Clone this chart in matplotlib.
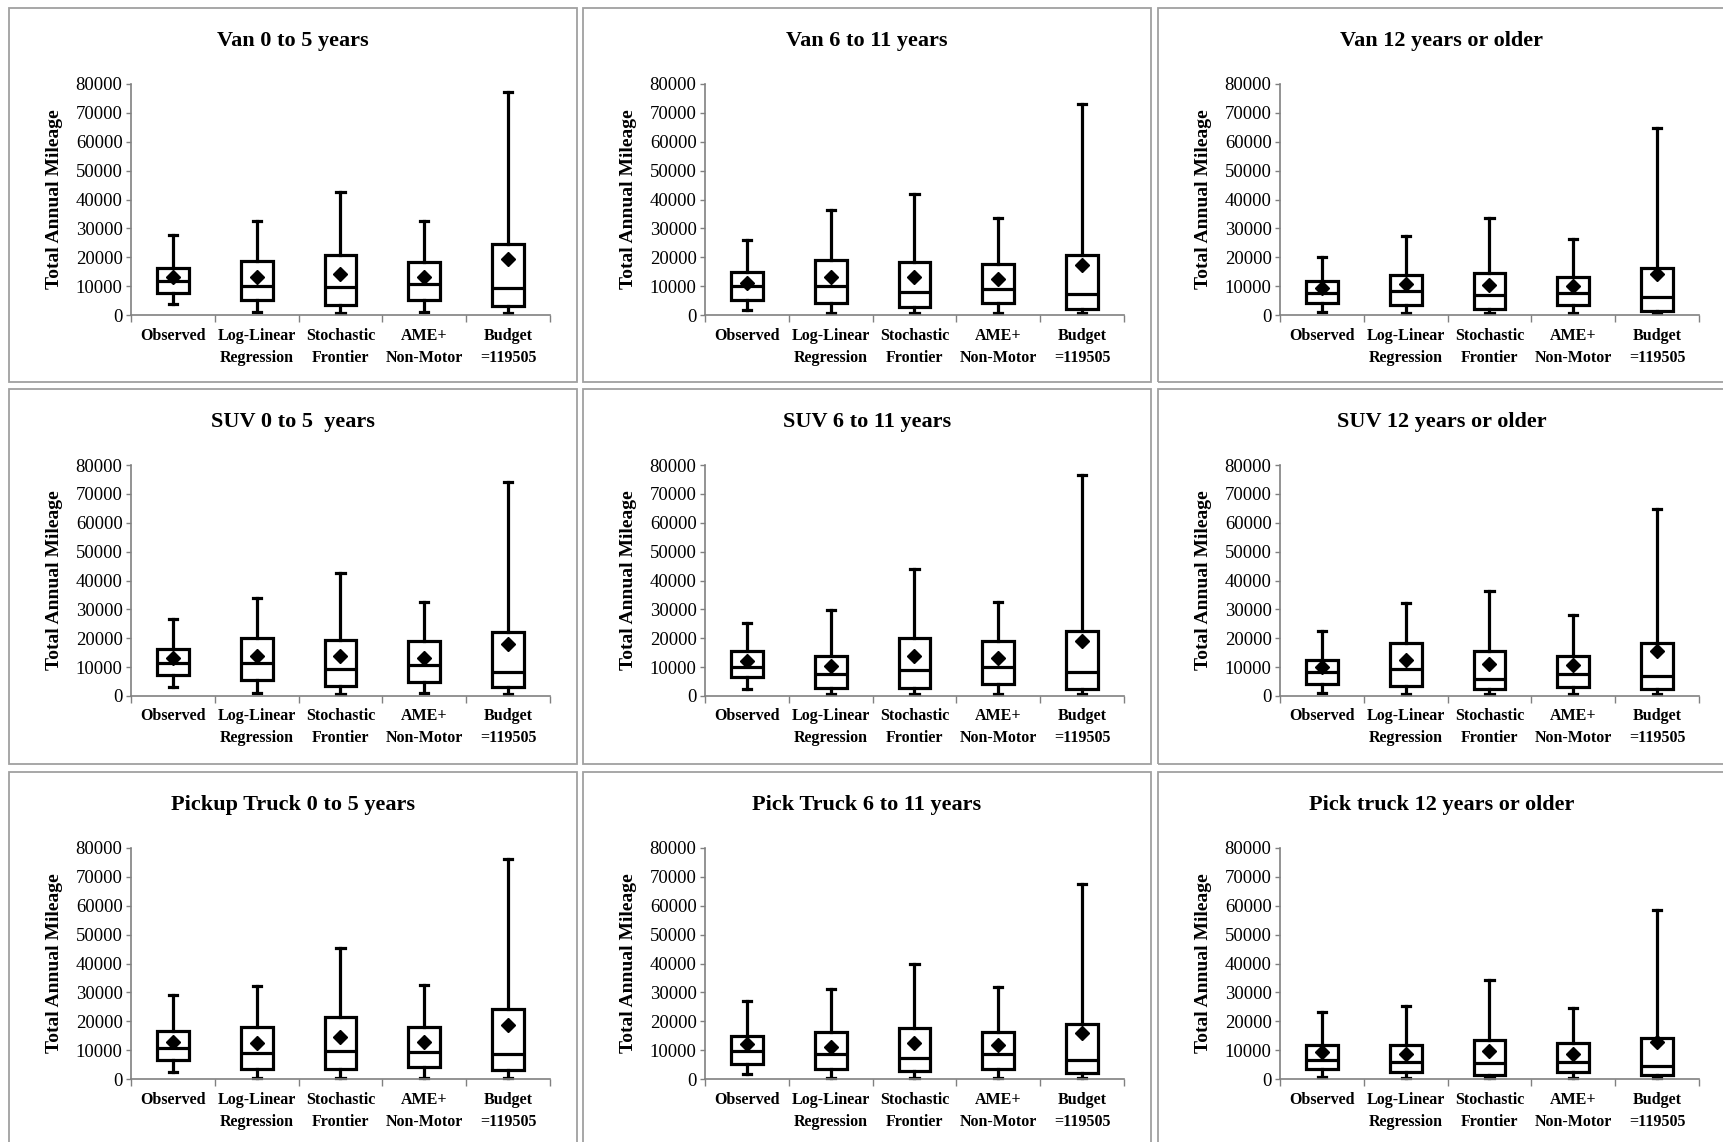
import matplotlib
matplotlib.use("Agg")
import matplotlib.pyplot as plt
from matplotlib.patches import Rectangle

plt.rcParams['font.family'] = ['Liberation Serif', 'DejaVu Serif']

categories = ["Observed", "Log-Linear\nRegression", "Stochastic\nFrontier",
              "AME+\nNon-Motor", "Budget\n=119505"]
titles = ["Van 0 to 5 years", "Van 6 to 11 years", "Van 12 years or older",
          "SUV 0 to 5  years", "SUV 6 to 11 years", "SUV 12 years or older",
          "Pickup Truck 0 to 5 years", "Pick Truck 6 to 11 years",
          "Pick truck 12 years or older"]
yticks = [0, 10000, 20000, 30000, 40000, 50000, 60000, 70000, 80000]
ylabel = "Total Annual Mileage"

whisker_high = [
    [27800, 32400, 42500, 32400, 77200],
    [26100, 36200, 41900, 33500, 73200],
    [20100, 27300, 33500, 26400, 64800],
    [26700, 33800, 42600, 32400, 74000],
    [25400, 29900, 44100, 32600, 76700],
    [22600, 32300, 36200, 28000, 64900],
    [29000, 32300, 45200, 32700, 76300],
    [27100, 31000, 40000, 31900, 67700],
    [23300, 25400, 34200, 24700, 58400],
]
quartile3 = [
    [16400, 18800, 20700, 18200, 24600],
    [15000, 18900, 18200, 17700, 20700],
    [11800, 13700, 14500, 13100, 16300],
    [16300, 20100, 19400, 19000, 22100],
    [15700, 13700, 20100, 18900, 22600],
    [12500, 18300, 15700, 13700, 18300],
    [16700, 18100, 21300, 18100, 24400],
    [15000, 16400, 17500, 16400, 19000],
    [11800, 11800, 13500, 12600, 14300],
]
median = [
    [11800, 10100, 9800, 10600, 9400],
    [9900, 10000, 7900, 9100, 7200],
    [7500, 8300, 6800, 7500, 6300],
    [11400, 11400, 9200, 10600, 8200],
    [10200, 7700, 8900, 10000, 8200],
    [8200, 9300, 6000, 7500, 6800],
    [10800, 9100, 9800, 9500, 8600],
    [9800, 8500, 7100, 8500, 6600],
    [6600, 6000, 5400, 6000, 4500],
]
quartile1 = [
    [7700, 5200, 3600, 5200, 3100],
    [5200, 4000, 2900, 4000, 2200],
    [4000, 3400, 2000, 3600, 1400],
    [7400, 5600, 3300, 4700, 3000],
    [6600, 2900, 2900, 4000, 2500],
    [4000, 3400, 2500, 3100, 2500],
    [6600, 3500, 3500, 4000, 3100],
    [5200, 3500, 2800, 3500, 2200],
    [3300, 2300, 1400, 2300, 1400],
]
whisker_low = [
    [3700, 900, 600, 900, 600],
    [1700, 600, 600, 600, 600],
    [900, 600, 600, 600, 600],
    [3000, 1000, 600, 1000, 600],
    [2500, 600, 600, 600, 600],
    [1000, 600, 600, 600, 600],
    [2300, 500, 500, 500, 500],
    [1600, 500, 500, 500, 500],
    [800, 500, 500, 500, 500],
]
mean = [
    [13000, 13000, 14100, 13000, 19300],
    [11100, 13000, 13000, 12400, 17400],
    [9500, 10600, 10300, 10000, 14300],
    [13200, 14000, 13800, 13200, 18000],
    [12000, 10500, 13800, 13200, 18900],
    [10000, 12500, 11100, 10600, 15500],
    [12900, 12300, 14600, 12900, 18700],
    [12000, 11200, 12300, 11800, 16000],
    [9200, 8500, 9700, 8500, 12700],
]

W, H = 1724, 1142
fig = plt.figure(figsize=(W / 100, H / 100), dpi=100)
fig.patch.set_facecolor('white')

col_left = [9, 583, 1158]
col_width = [568, 568, 590]
row_top = [8, 389, 772]
row_height = [374, 375, 400]

def fx(x):
    return x / W

def fy(y):
    return 1 - y / H

for i in range(9):
    r, c = divmod(i, 3)
    pl, pt = col_left[c], row_top[r]
    pw, ph = col_width[c], row_height[r]
    # panel border
    fig.patches.append(Rectangle((fx(pl), fy(pt + ph)), pw / W, ph / H,
                                 transform=fig.transFigure, fill=False,
                                 edgecolor='#a0a0a0', linewidth=1.3,
                                 zorder=0))
    ax_l = pl + 122
    ax_r = pl + 541
    ax_t = pt + 76
    ax_b = pt + 307
    ax = fig.add_axes([fx(ax_l), fy(ax_b), (ax_r - ax_l) / W, (ax_b - ax_t) / H])
    stats = []
    for j in range(5):
        stats.append(dict(med=median[i][j], q1=quartile1[i][j], q3=quartile3[i][j],
                          whislo=whisker_low[i][j], whishi=whisker_high[i][j],
                          mean=mean[i][j], fliers=[]))
    lw = 2.3
    ax.bxp(stats, positions=range(1, 6), widths=0.38, capwidths=0.10,
           showmeans=True, patch_artist=True, showfliers=False,
           boxprops=dict(facecolor='white', edgecolor='black', linewidth=lw),
           whiskerprops=dict(color='black', linewidth=lw),
           capprops=dict(color='black', linewidth=lw),
           medianprops=dict(color='black', linewidth=lw),
           meanprops=dict(marker='D', markerfacecolor='black',
                          markeredgecolor='black', markersize=7))
    ax.set_xlim(0.5, 5.5)
    ax.set_ylim(0, 80000)
    ax.set_yticks(yticks)
    ax.set_yticklabels([str(v) for v in yticks], fontsize=13.5)
    ax.set_xticks([1, 2, 3, 4, 5])
    ax.set_xticklabels(categories, fontsize=11.5, fontweight='bold', linespacing=1.5)
    ax.set_xticks([0.5, 1.5, 2.5, 3.5, 4.5, 5.5], minor=True)
    ax.tick_params(axis='x', which='major', length=0, pad=9)
    ax.tick_params(axis='x', which='minor', length=5, color='#808080', width=1)
    ax.tick_params(axis='y', length=3.6, color='#808080', width=1, pad=2.5)
    for s in ['top', 'right']:
        ax.spines[s].set_visible(False)
    for s in ['left', 'bottom']:
        ax.spines[s].set_color('#808080')
        ax.spines[s].set_linewidth(1.2)
    ax.set_ylabel(ylabel, fontsize=14, fontweight='bold')
    ax.yaxis.set_label_coords(-0.162, 0.5)
    for art in ax.lines + ax.patches:
        art.set_clip_on(False)
    fig.text(fx(pl + 284), fy(pt + 33), titles[i], ha='center', va='center',
             fontsize=16, fontweight='bold')

fig.savefig("out.png", dpi=100, facecolor='white')
